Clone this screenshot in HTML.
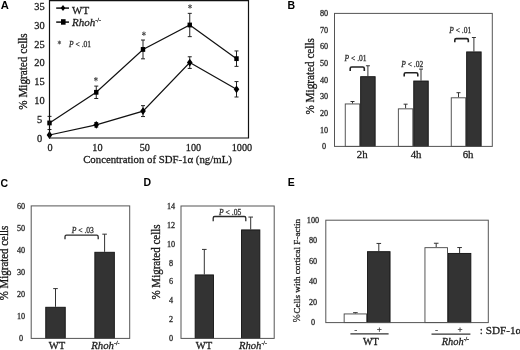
<!DOCTYPE html>
<html><head><meta charset="utf-8"><style>
html,body{margin:0;padding:0;background:#fff;}
body{width:520px;height:350px;overflow:hidden;font-family:"Liberation Serif",serif;}
svg{display:block;filter:blur(0.35px);}
text{stroke-width:0.28px;}
</style></head><body>
<svg width="520" height="350" viewBox="0 0 520 350">
<rect width="520" height="350" fill="#fff"/>
<text x="0.7" y="9.0" font-size="11.2" text-anchor="start" fill="#000" font-weight="bold" font-family='"Liberation Sans", sans-serif' >A</text>
<text x="39.5" y="141.5" font-size="10.4" text-anchor="middle" fill="#1a1a1a" stroke="#1a1a1a" font-family='"Liberation Serif", serif' >0</text>
<text x="39.5" y="122.70000000000002" font-size="10.4" text-anchor="middle" fill="#1a1a1a" stroke="#1a1a1a" font-family='"Liberation Serif", serif' >5</text>
<text x="39.5" y="103.90000000000002" font-size="10.4" text-anchor="middle" fill="#1a1a1a" stroke="#1a1a1a" font-family='"Liberation Serif", serif' >10</text>
<text x="39.5" y="85.10000000000001" font-size="10.4" text-anchor="middle" fill="#1a1a1a" stroke="#1a1a1a" font-family='"Liberation Serif", serif' >15</text>
<text x="39.5" y="66.30000000000003" font-size="10.4" text-anchor="middle" fill="#1a1a1a" stroke="#1a1a1a" font-family='"Liberation Serif", serif' >20</text>
<text x="39.5" y="47.500000000000014" font-size="10.4" text-anchor="middle" fill="#1a1a1a" stroke="#1a1a1a" font-family='"Liberation Serif", serif' >25</text>
<text x="39.5" y="28.700000000000014" font-size="10.4" text-anchor="middle" fill="#1a1a1a" stroke="#1a1a1a" font-family='"Liberation Serif", serif' >30</text>
<text x="39.5" y="9.900000000000016" font-size="10.4" text-anchor="middle" fill="#1a1a1a" stroke="#1a1a1a" font-family='"Liberation Serif", serif' >35</text>
<text x="50.1" y="150.6" font-size="10.2" text-anchor="middle" fill="#1a1a1a" stroke="#1a1a1a" font-family='"Liberation Serif", serif' >0</text>
<text x="97.4" y="150.6" font-size="10.2" text-anchor="middle" fill="#1a1a1a" stroke="#1a1a1a" font-family='"Liberation Serif", serif' >10</text>
<text x="144.8" y="150.6" font-size="10.2" text-anchor="middle" fill="#1a1a1a" stroke="#1a1a1a" font-family='"Liberation Serif", serif' >50</text>
<text x="193.5" y="150.6" font-size="10.2" text-anchor="middle" fill="#1a1a1a" stroke="#1a1a1a" font-family='"Liberation Serif", serif' >100</text>
<text x="241.9" y="150.6" font-size="10.2" text-anchor="middle" fill="#1a1a1a" stroke="#1a1a1a" font-family='"Liberation Serif", serif' >1000</text>
<text x="157.5" y="163.0" font-size="10.8" text-anchor="middle" fill="#1a1a1a" stroke="#1a1a1a" font-family='"Liberation Serif", serif' >Concentration of SDF-1&#945; (ng/mL)</text>
<text x="0" y="0" font-size="11.2" text-anchor="middle" fill="#1a1a1a" stroke="#1a1a1a" font-family='"Liberation Serif", serif' transform="translate(26.5,71.5) rotate(-90) scale(1,1.17)">% Migrated cells</text>
<g>
<polyline fill="none" stroke="#111" stroke-width="1.2" points="49.50,134.98 96.25,124.83 143.00,111.10 189.75,62.60 236.50,89.30"/>
<polyline fill="none" stroke="#111" stroke-width="1.2" points="49.50,122.95 96.25,92.30 143.00,49.44 189.75,25.00 236.50,58.65"/>
<line x1="96.25" y1="122.57200000000002" x2="96.25" y2="127.08400000000002" stroke="#222" stroke-width="1.0"/>
<line x1="94.25" y1="122.57200000000002" x2="98.25" y2="122.57200000000002" stroke="#222" stroke-width="1.0"/>
<line x1="94.25" y1="127.08400000000002" x2="98.25" y2="127.08400000000002" stroke="#222" stroke-width="1.0"/>
<line x1="143.0" y1="105.65200000000002" x2="143.0" y2="116.55600000000001" stroke="#222" stroke-width="1.0"/>
<line x1="141.0" y1="105.65200000000002" x2="145.0" y2="105.65200000000002" stroke="#222" stroke-width="1.0"/>
<line x1="141.0" y1="116.55600000000001" x2="145.0" y2="116.55600000000001" stroke="#222" stroke-width="1.0"/>
<line x1="189.75" y1="56.77200000000002" x2="189.75" y2="68.42800000000001" stroke="#222" stroke-width="1.0"/>
<line x1="187.75" y1="56.77200000000002" x2="191.75" y2="56.77200000000002" stroke="#222" stroke-width="1.0"/>
<line x1="187.75" y1="68.42800000000001" x2="191.75" y2="68.42800000000001" stroke="#222" stroke-width="1.0"/>
<line x1="236.5" y1="81.58800000000002" x2="236.5" y2="97.004" stroke="#222" stroke-width="1.0"/>
<line x1="234.5" y1="81.58800000000002" x2="238.5" y2="81.58800000000002" stroke="#222" stroke-width="1.0"/>
<line x1="234.5" y1="97.004" x2="238.5" y2="97.004" stroke="#222" stroke-width="1.0"/>
<line x1="49.5" y1="116.36800000000001" x2="49.5" y2="129.52800000000002" stroke="#222" stroke-width="1.0"/>
<line x1="47.5" y1="116.36800000000001" x2="51.5" y2="116.36800000000001" stroke="#222" stroke-width="1.0"/>
<line x1="47.5" y1="129.52800000000002" x2="51.5" y2="129.52800000000002" stroke="#222" stroke-width="1.0"/>
<line x1="96.25" y1="86.10000000000002" x2="96.25" y2="98.50800000000001" stroke="#222" stroke-width="1.0"/>
<line x1="94.25" y1="86.10000000000002" x2="98.25" y2="86.10000000000002" stroke="#222" stroke-width="1.0"/>
<line x1="94.25" y1="98.50800000000001" x2="98.25" y2="98.50800000000001" stroke="#222" stroke-width="1.0"/>
<line x1="143.0" y1="40.04000000000002" x2="143.0" y2="58.84000000000002" stroke="#222" stroke-width="1.0"/>
<line x1="141.0" y1="40.04000000000002" x2="145.0" y2="40.04000000000002" stroke="#222" stroke-width="1.0"/>
<line x1="141.0" y1="58.84000000000002" x2="145.0" y2="58.84000000000002" stroke="#222" stroke-width="1.0"/>
<line x1="189.75" y1="13.344000000000008" x2="189.75" y2="36.65600000000002" stroke="#222" stroke-width="1.0"/>
<line x1="187.75" y1="13.344000000000008" x2="191.75" y2="13.344000000000008" stroke="#222" stroke-width="1.0"/>
<line x1="187.75" y1="36.65600000000002" x2="191.75" y2="36.65600000000002" stroke="#222" stroke-width="1.0"/>
<line x1="236.5" y1="50.94400000000002" x2="236.5" y2="66.36000000000001" stroke="#222" stroke-width="1.0"/>
<line x1="234.5" y1="50.94400000000002" x2="238.5" y2="50.94400000000002" stroke="#222" stroke-width="1.0"/>
<line x1="234.5" y1="66.36000000000001" x2="238.5" y2="66.36000000000001" stroke="#222" stroke-width="1.0"/>
<path d="M49.50,131.08 L52.30,134.98 L49.50,138.88 L46.70,134.98 Z" fill="#000"/>
<path d="M96.25,120.93 L99.05,124.83 L96.25,128.73 L93.45,124.83 Z" fill="#000"/>
<path d="M143.00,107.20 L145.80,111.10 L143.00,115.00 L140.20,111.10 Z" fill="#000"/>
<path d="M189.75,58.70 L192.55,62.60 L189.75,66.50 L186.95,62.60 Z" fill="#000"/>
<path d="M236.50,85.40 L239.30,89.30 L236.50,93.20 L233.70,89.30 Z" fill="#000"/>
<rect x="47.30" y="120.55" width="4.4" height="4.8" fill="#000"/>
<rect x="94.05" y="89.90" width="4.4" height="4.8" fill="#000"/>
<rect x="140.80" y="47.04" width="4.4" height="4.8" fill="#000"/>
<rect x="187.55" y="22.60" width="4.4" height="4.8" fill="#000"/>
<rect x="234.30" y="56.25" width="4.4" height="4.8" fill="#000"/>
</g>
<path d="M95.90,77.00 L95.90,81.40 M97.81,78.10 L93.99,80.30 M97.81,80.30 L93.99,78.10 " stroke="#555" stroke-width="1.0" fill="none"/>
<circle cx="95.9" cy="79.2" r="0.9" fill="#555"/>
<path d="M143.90,31.50 L143.90,35.90 M145.81,32.60 L141.99,34.80 M145.81,34.80 L141.99,32.60 " stroke="#555" stroke-width="1.0" fill="none"/>
<circle cx="143.9" cy="33.7" r="0.9" fill="#555"/>
<path d="M190.00,4.30 L190.00,8.70 M191.91,5.40 L188.09,7.60 M191.91,7.60 L188.09,5.40 " stroke="#555" stroke-width="1.0" fill="none"/>
<circle cx="190" cy="6.5" r="0.9" fill="#555"/>
<path d="M49.5,138.0 L49.5,0.7 L248.5,0.7 L248.5,138.0 Z" fill="none" stroke="#111" stroke-width="1.2"/>
<line x1="56.2" y1="8.1" x2="69.0" y2="8.1" stroke="#111" stroke-width="1.5"/>
<path d="M63,5.0 L65.3,8.0 L63,11.0 L60.7,8.0 Z" fill="#000"/>
<text x="72" y="13.6" font-size="11" text-anchor="start" fill="#1a1a1a" stroke="#1a1a1a" font-family='"Liberation Serif", serif' >WT</text>
<line x1="56.2" y1="22.1" x2="69.0" y2="22.1" stroke="#111" stroke-width="1.5"/>
<rect x="61.0" y="19.2" width="4.6" height="5.5" fill="#000"/>
<text x="72" y="26.4" font-size="11" text-anchor="start" fill="#1a1a1a" stroke="#1a1a1a" font-family='"Liberation Serif", serif'><tspan font-style="italic">Rhoh</tspan><tspan font-size="6.05" dy="-4.18">-/-</tspan></text>
<path d="M59.40,40.60 L59.40,44.40 M61.05,41.55 L57.75,43.45 M61.05,43.45 L57.75,41.55 " stroke="#555" stroke-width="1.0" fill="none"/>
<circle cx="59.4" cy="42.5" r="0.9" fill="#555"/>
<text x="69.1" y="46.5" font-size="7.5" fill="#333" stroke="#333" font-family='"Liberation Serif", serif'><tspan font-style="italic">P</tspan> &lt; .01</text>
<text x="287.5" y="8.9" font-size="10.5" text-anchor="start" fill="#000" font-weight="bold" font-family='"Liberation Sans", sans-serif' >B</text>
<text x="324" y="149.20000000000002" font-size="8.2" text-anchor="middle" fill="#2a2a2a" stroke="#2a2a2a" stroke-width="0.12" font-family='"Liberation Serif", serif' >0</text>
<text x="324" y="132.57500000000002" font-size="8.2" text-anchor="middle" fill="#2a2a2a" stroke="#2a2a2a" stroke-width="0.12" font-family='"Liberation Serif", serif' >10</text>
<text x="324" y="115.95" font-size="8.2" text-anchor="middle" fill="#2a2a2a" stroke="#2a2a2a" stroke-width="0.12" font-family='"Liberation Serif", serif' >20</text>
<text x="324" y="99.325" font-size="8.2" text-anchor="middle" fill="#2a2a2a" stroke="#2a2a2a" stroke-width="0.12" font-family='"Liberation Serif", serif' >30</text>
<text x="324" y="82.7" font-size="8.2" text-anchor="middle" fill="#2a2a2a" stroke="#2a2a2a" stroke-width="0.12" font-family='"Liberation Serif", serif' >40</text>
<text x="324" y="66.075" font-size="8.2" text-anchor="middle" fill="#2a2a2a" stroke="#2a2a2a" stroke-width="0.12" font-family='"Liberation Serif", serif' >50</text>
<text x="324" y="49.45" font-size="8.2" text-anchor="middle" fill="#2a2a2a" stroke="#2a2a2a" stroke-width="0.12" font-family='"Liberation Serif", serif' >60</text>
<text x="324" y="32.825" font-size="8.2" text-anchor="middle" fill="#2a2a2a" stroke="#2a2a2a" stroke-width="0.12" font-family='"Liberation Serif", serif' >70</text>
<text x="324" y="16.200000000000006" font-size="8.2" text-anchor="middle" fill="#2a2a2a" stroke="#2a2a2a" stroke-width="0.12" font-family='"Liberation Serif", serif' >80</text>
<text x="0" y="0" font-size="11.2" text-anchor="middle" fill="#1a1a1a" stroke="#1a1a1a" font-family='"Liberation Serif", serif' transform="translate(314.2,76.3) rotate(-90) scale(1,1.17)">% Migrated cells</text>
<line x1="352.5" y1="101.5125" x2="352.5" y2="103.5075" stroke="#333" stroke-width="1"/>
<line x1="350.5" y1="101.5125" x2="354.5" y2="101.5125" stroke="#333" stroke-width="1"/>
<rect x="345.25" y="103.96" width="14.50" height="42.44" fill="#fff" stroke="#444" stroke-width="0.9"/>
<line x1="405.6" y1="104.17250000000001" x2="405.6" y2="108.39525" stroke="#333" stroke-width="1"/>
<line x1="403.6" y1="104.17250000000001" x2="407.6" y2="104.17250000000001" stroke="#333" stroke-width="1"/>
<rect x="398.35" y="108.85" width="14.50" height="37.55" fill="#fff" stroke="#444" stroke-width="0.9"/>
<line x1="458.5" y1="92.70125000000002" x2="458.5" y2="97.35625" stroke="#333" stroke-width="1"/>
<line x1="456.5" y1="92.70125000000002" x2="460.5" y2="92.70125000000002" stroke="#333" stroke-width="1"/>
<rect x="451.25" y="97.81" width="14.50" height="48.59" fill="#fff" stroke="#444" stroke-width="0.9"/>
<line x1="367.9" y1="65.76875" x2="367.9" y2="76.24249999999999" stroke="#333" stroke-width="1"/>
<line x1="365.9" y1="65.76875" x2="369.9" y2="65.76875" stroke="#333" stroke-width="1"/>
<rect x="360.65" y="76.69" width="14.50" height="69.71" fill="#333" stroke="#111" stroke-width="0.9"/>
<line x1="421.0" y1="69.09375" x2="421.0" y2="80.565" stroke="#333" stroke-width="1"/>
<line x1="419.0" y1="69.09375" x2="423.0" y2="69.09375" stroke="#333" stroke-width="1"/>
<rect x="413.75" y="81.02" width="14.50" height="65.39" fill="#333" stroke="#111" stroke-width="0.9"/>
<line x1="473.9" y1="37.506249999999994" x2="473.9" y2="51.47125" stroke="#333" stroke-width="1"/>
<line x1="471.9" y1="37.506249999999994" x2="475.9" y2="37.506249999999994" stroke="#333" stroke-width="1"/>
<rect x="466.65" y="51.92" width="14.50" height="94.48" fill="#333" stroke="#111" stroke-width="0.9"/>
<rect x="334.5" y="13.4" width="157.8" height="133.0" fill="none" stroke="#555" stroke-width="1"/>
<text x="362.2" y="158.2" font-size="10.8" text-anchor="middle" fill="#1a1a1a" stroke="#1a1a1a" font-family='"Liberation Serif", serif' >2h</text>
<text x="416.1" y="158.2" font-size="10.8" text-anchor="middle" fill="#1a1a1a" stroke="#1a1a1a" font-family='"Liberation Serif", serif' >4h</text>
<text x="468.1" y="158.2" font-size="10.8" text-anchor="middle" fill="#1a1a1a" stroke="#1a1a1a" font-family='"Liberation Serif", serif' >6h</text>
<path d="M350.2,71.0 L350.2,68.5 Q350.2,67.0 351.7,67.0 L362.8,67.0 Q364.3,67.0 364.3,68.5 L364.3,71.0" fill="none" stroke="#222" stroke-width="1.6"/>
<text x="355.6" y="60.6" font-size="7.5" text-anchor="middle" fill="#333" stroke="#333" stroke-width="0.12" font-family='"Liberation Serif", serif'><tspan font-style="italic">P</tspan> &lt; .01</text>
<path d="M404.2,76.5 L404.2,74.3 Q404.2,72.8 405.7,72.8 L416.3,72.8 Q417.8,72.8 417.8,74.3 L417.8,76.5" fill="none" stroke="#222" stroke-width="1.6"/>
<text x="412.2" y="66.5" font-size="7.5" text-anchor="middle" fill="#333" stroke="#333" stroke-width="0.12" font-family='"Liberation Serif", serif'><tspan font-style="italic">P</tspan> &lt; .02</text>
<path d="M454.8,42.3 L454.8,40.1 Q454.8,38.6 456.3,38.6 L466.8,38.6 Q468.3,38.6 468.3,40.1 L468.3,42.3" fill="none" stroke="#222" stroke-width="1.6"/>
<text x="460.2" y="32.7" font-size="7.5" text-anchor="middle" fill="#333" stroke="#333" stroke-width="0.12" font-family='"Liberation Serif", serif'><tspan font-style="italic">P</tspan> &lt; .01</text>
<text x="0.6" y="187.3" font-size="10.5" text-anchor="start" fill="#000" font-weight="bold" font-family='"Liberation Sans", sans-serif' >C</text>
<text x="21" y="341.2" font-size="8.2" text-anchor="middle" fill="#2a2a2a" stroke="#2a2a2a" stroke-width="0.12" font-family='"Liberation Serif", serif' >0</text>
<text x="21" y="319.117" font-size="8.2" text-anchor="middle" fill="#2a2a2a" stroke="#2a2a2a" stroke-width="0.12" font-family='"Liberation Serif", serif' >10</text>
<text x="21" y="297.034" font-size="8.2" text-anchor="middle" fill="#2a2a2a" stroke="#2a2a2a" stroke-width="0.12" font-family='"Liberation Serif", serif' >20</text>
<text x="21" y="274.95099999999996" font-size="8.2" text-anchor="middle" fill="#2a2a2a" stroke="#2a2a2a" stroke-width="0.12" font-family='"Liberation Serif", serif' >30</text>
<text x="21" y="252.868" font-size="8.2" text-anchor="middle" fill="#2a2a2a" stroke="#2a2a2a" stroke-width="0.12" font-family='"Liberation Serif", serif' >40</text>
<text x="21" y="230.785" font-size="8.2" text-anchor="middle" fill="#2a2a2a" stroke="#2a2a2a" stroke-width="0.12" font-family='"Liberation Serif", serif' >50</text>
<text x="21" y="208.702" font-size="8.2" text-anchor="middle" fill="#2a2a2a" stroke="#2a2a2a" stroke-width="0.12" font-family='"Liberation Serif", serif' >60</text>
<text x="0" y="0" font-size="10.9" text-anchor="middle" fill="#1a1a1a" stroke="#1a1a1a" font-family='"Liberation Serif", serif' transform="translate(7.9,263) rotate(-90) scale(1,1.17)">% Migrated cells</text>
<line x1="55.5" y1="288.60283499999997" x2="55.5" y2="306.82131" stroke="#333" stroke-width="1"/>
<line x1="53.2" y1="288.60283499999997" x2="57.8" y2="288.60283499999997" stroke="#333" stroke-width="1"/>
<rect x="45.75" y="307.27" width="19.50" height="31.13" fill="#333" stroke="#111" stroke-width="0.9"/>
<line x1="104.6" y1="234.16823999999997" x2="104.6" y2="251.83463999999998" stroke="#333" stroke-width="1"/>
<line x1="102.3" y1="234.16823999999997" x2="106.89999999999999" y2="234.16823999999997" stroke="#333" stroke-width="1"/>
<rect x="94.85" y="252.28" width="19.50" height="86.12" fill="#333" stroke="#111" stroke-width="0.9"/>
<rect x="31.2" y="205.9" width="98.49999999999999" height="132.49999999999997" fill="none" stroke="#555" stroke-width="1"/>
<text x="57" y="349" font-size="10.6" text-anchor="middle" fill="#1a1a1a" stroke="#1a1a1a" font-family='"Liberation Serif", serif' >WT</text>
<text x="91.2" y="348.7" font-size="10.8" text-anchor="start" fill="#1a1a1a" stroke="#1a1a1a" font-family='"Liberation Serif", serif'><tspan font-style="italic">Rhoh</tspan><tspan font-size="5.94" dy="-4.10">-/-</tspan></text>
<path d="M65.0,239.3 L65.0,236.7 Q65.0,235.2 66.5,235.2 L96.7,235.2 Q98.2,235.2 98.2,236.7 L98.2,239.3" fill="none" stroke="#2a2a2a" stroke-width="1.3"/>
<text x="82.8" y="233.3" font-size="7.6" text-anchor="middle" fill="#333" stroke="#333" stroke-width="0.12" font-family='"Liberation Serif", serif'><tspan font-style="italic">P</tspan> &lt; .03</text>
<text x="143.4" y="186.4" font-size="10.5" text-anchor="start" fill="#000" font-weight="bold" font-family='"Liberation Sans", sans-serif' >D</text>
<text x="171" y="341.2" font-size="8.2" text-anchor="middle" fill="#2a2a2a" stroke="#2a2a2a" stroke-width="0.12" font-family='"Liberation Serif", serif' >0</text>
<text x="171" y="322.286" font-size="8.2" text-anchor="middle" fill="#2a2a2a" stroke="#2a2a2a" stroke-width="0.12" font-family='"Liberation Serif", serif' >2</text>
<text x="171" y="303.372" font-size="8.2" text-anchor="middle" fill="#2a2a2a" stroke="#2a2a2a" stroke-width="0.12" font-family='"Liberation Serif", serif' >4</text>
<text x="171" y="284.45799999999997" font-size="8.2" text-anchor="middle" fill="#2a2a2a" stroke="#2a2a2a" stroke-width="0.12" font-family='"Liberation Serif", serif' >6</text>
<text x="171" y="265.544" font-size="8.2" text-anchor="middle" fill="#2a2a2a" stroke="#2a2a2a" stroke-width="0.12" font-family='"Liberation Serif", serif' >8</text>
<text x="171" y="246.63" font-size="8.2" text-anchor="middle" fill="#2a2a2a" stroke="#2a2a2a" stroke-width="0.12" font-family='"Liberation Serif", serif' >10</text>
<text x="171" y="227.71599999999998" font-size="8.2" text-anchor="middle" fill="#2a2a2a" stroke="#2a2a2a" stroke-width="0.12" font-family='"Liberation Serif", serif' >12</text>
<text x="171" y="208.80199999999996" font-size="8.2" text-anchor="middle" fill="#2a2a2a" stroke="#2a2a2a" stroke-width="0.12" font-family='"Liberation Serif", serif' >14</text>
<text x="0" y="0" font-size="11.0" text-anchor="middle" fill="#1a1a1a" stroke="#1a1a1a" font-family='"Liberation Serif", serif' transform="translate(160.4,262) rotate(-90) scale(1,1.17)">% Migrated cells</text>
<line x1="204.3" y1="249.40962999999996" x2="204.3" y2="274.47067999999996" stroke="#333" stroke-width="1"/>
<line x1="202.0" y1="249.40962999999996" x2="206.60000000000002" y2="249.40962999999996" stroke="#333" stroke-width="1"/>
<rect x="195.15" y="274.92" width="18.30" height="63.48" fill="#333" stroke="#111" stroke-width="0.9"/>
<line x1="250.7" y1="217.06668999999997" x2="250.7" y2="229.45535999999998" stroke="#333" stroke-width="1"/>
<line x1="248.39999999999998" y1="217.06668999999997" x2="253.0" y2="217.06668999999997" stroke="#333" stroke-width="1"/>
<rect x="241.55" y="229.91" width="18.30" height="108.49" fill="#333" stroke="#111" stroke-width="0.9"/>
<rect x="181.0" y="206.0" width="93.19999999999999" height="132.39999999999998" fill="none" stroke="#555" stroke-width="1"/>
<text x="204" y="349.3" font-size="10.6" text-anchor="middle" fill="#1a1a1a" stroke="#1a1a1a" font-family='"Liberation Serif", serif' >WT</text>
<text x="239" y="349.2" font-size="10.6" text-anchor="start" fill="#1a1a1a" stroke="#1a1a1a" font-family='"Liberation Serif", serif'><tspan font-style="italic">Rhoh</tspan><tspan font-size="5.83" dy="-4.03">-/-</tspan></text>
<path d="M213.2,221.3 L213.2,218.0 Q213.2,216.5 214.7,216.5 L244.3,216.5 Q245.8,216.5 245.8,218.0 L245.8,221.3" fill="none" stroke="#2a2a2a" stroke-width="1.3"/>
<text x="230.2" y="215.2" font-size="7.6" text-anchor="middle" fill="#333" stroke="#333" stroke-width="0.12" font-family='"Liberation Serif", serif'><tspan font-style="italic">P</tspan> &lt; .05</text>
<text x="287.8" y="186.2" font-size="10.5" text-anchor="start" fill="#000" font-weight="bold" font-family='"Liberation Sans", sans-serif' >E</text>
<text x="313" y="325.40000000000003" font-size="8.2" text-anchor="middle" fill="#2a2a2a" stroke="#2a2a2a" stroke-width="0.12" font-family='"Liberation Serif", serif' >0</text>
<text x="313" y="304.92" font-size="8.2" text-anchor="middle" fill="#2a2a2a" stroke="#2a2a2a" stroke-width="0.12" font-family='"Liberation Serif", serif' >20</text>
<text x="313" y="284.44000000000005" font-size="8.2" text-anchor="middle" fill="#2a2a2a" stroke="#2a2a2a" stroke-width="0.12" font-family='"Liberation Serif", serif' >40</text>
<text x="313" y="263.96000000000004" font-size="8.2" text-anchor="middle" fill="#2a2a2a" stroke="#2a2a2a" stroke-width="0.12" font-family='"Liberation Serif", serif' >60</text>
<text x="313" y="243.48000000000002" font-size="8.2" text-anchor="middle" fill="#2a2a2a" stroke="#2a2a2a" stroke-width="0.12" font-family='"Liberation Serif", serif' >80</text>
<text x="313" y="223.00000000000003" font-size="8.2" text-anchor="middle" fill="#2a2a2a" stroke="#2a2a2a" stroke-width="0.12" font-family='"Liberation Serif", serif' >100</text>
<text x="0" y="0" font-size="9.1" text-anchor="start" fill="#1a1a1a" stroke="#1a1a1a" font-family='"Liberation Serif", serif' transform="translate(299.9,313.6) rotate(-90)">Cells with cortical F-actin</text>
<text x="0" y="0" font-size="9.6" text-anchor="start" fill="#333" stroke="#333" stroke-width="0.15" font-family='"Liberation Serif", serif' transform="translate(299.9,322.2) rotate(-90)">%</text>
<line x1="355.40000000000003" y1="312.66720000000004" x2="355.40000000000003" y2="313.4864" stroke="#333" stroke-width="1"/>
<line x1="353.1" y1="312.66720000000004" x2="357.70000000000005" y2="312.66720000000004" stroke="#333" stroke-width="1"/>
<rect x="344.15" y="313.94" width="22.50" height="8.66" fill="#fff" stroke="#444" stroke-width="0.9"/>
<line x1="378.8" y1="243.44480000000004" x2="378.8" y2="251.22720000000004" stroke="#333" stroke-width="1"/>
<line x1="376.5" y1="243.44480000000004" x2="381.1" y2="243.44480000000004" stroke="#333" stroke-width="1"/>
<rect x="367.55" y="251.68" width="22.50" height="70.92" fill="#333" stroke="#111" stroke-width="0.9"/>
<line x1="436.2" y1="243.24" x2="436.2" y2="247.23360000000002" stroke="#333" stroke-width="1"/>
<line x1="433.9" y1="243.24" x2="438.5" y2="243.24" stroke="#333" stroke-width="1"/>
<rect x="424.95" y="247.68" width="22.50" height="74.92" fill="#fff" stroke="#444" stroke-width="0.9"/>
<line x1="459.59999999999997" y1="247.54080000000002" x2="459.59999999999997" y2="252.96800000000002" stroke="#333" stroke-width="1"/>
<line x1="457.29999999999995" y1="247.54080000000002" x2="461.9" y2="247.54080000000002" stroke="#333" stroke-width="1"/>
<rect x="448.35" y="253.42" width="22.50" height="69.18" fill="#333" stroke="#111" stroke-width="0.9"/>
<rect x="325.8" y="220.2" width="162.5" height="102.40000000000003" fill="none" stroke="#555" stroke-width="1"/>
<text x="355.90000000000003" y="333.0" font-size="8" text-anchor="middle" fill="#444" stroke="#444" stroke-width="0.1" font-family='"Liberation Serif", serif' >-</text>
<text x="379.3" y="332.3" font-size="9" text-anchor="middle" fill="#333" stroke="#333" stroke-width="0.15" font-family='"Liberation Serif", serif' >+</text>
<text x="436.7" y="333.0" font-size="8" text-anchor="middle" fill="#444" stroke="#444" stroke-width="0.1" font-family='"Liberation Serif", serif' >-</text>
<text x="460.09999999999997" y="332.3" font-size="9" text-anchor="middle" fill="#333" stroke="#333" stroke-width="0.15" font-family='"Liberation Serif", serif' >+</text>
<line x1="350.4" y1="333.9" x2="388.6" y2="333.9" stroke="#333" stroke-width="1.2"/>
<line x1="431.5" y1="334.2" x2="470.4" y2="334.2" stroke="#333" stroke-width="1.2"/>
<text x="370.8" y="345.4" font-size="10.2" text-anchor="middle" fill="#1a1a1a" stroke="#1a1a1a" font-family='"Liberation Serif", serif' >WT</text>
<text x="441.7" y="345.2" font-size="10.4" text-anchor="start" fill="#1a1a1a" stroke="#1a1a1a" font-family='"Liberation Serif", serif'><tspan font-style="italic">Rhoh</tspan><tspan font-size="5.72" dy="-3.95">-/-</tspan></text>
<text x="479.8" y="334.2" font-size="11.2" text-anchor="start" fill="#1a1a1a" stroke="#1a1a1a" font-family='"Liberation Serif", serif' >: SDF-1&#945;</text>
</svg>
</body></html>
